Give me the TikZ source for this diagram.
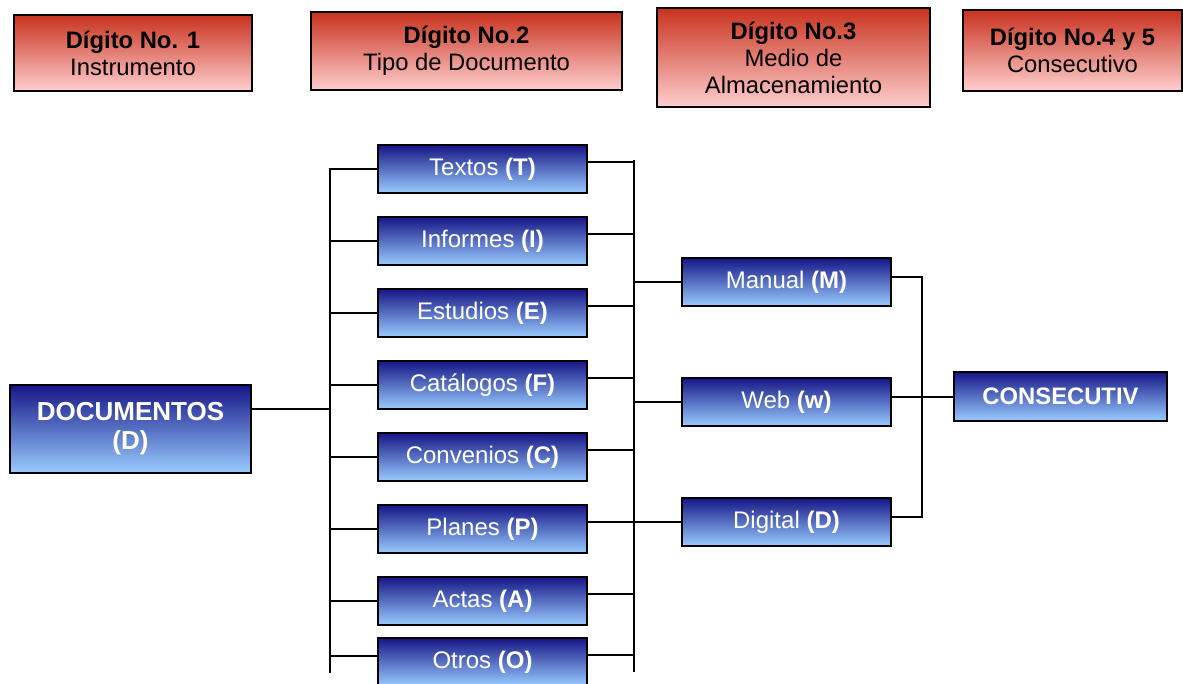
\documentclass[tikz,border=0pt]{standalone}
\usepackage{fontspec}
\setmainfont{Liberation Sans}
\usetikzlibrary{positioning}
\definecolor{digtop}{RGB}{200,50,30}
\definecolor{digbot}{RGB}{255,206,206}
\definecolor{doctop}{RGB}{22,22,135}
\definecolor{docbot}{RGB}{153,204,255}

\begin{document}
\begin{tikzpicture}
		[x=1pt,y=-1pt,line width=2pt,
		digit box/.style={draw=black,top color=digtop,bottom color=digbot,align=center,inner sep=0pt,font=\fontsize{23.8}{27}\selectfont},
		doc box/.style={draw=black,top color=doctop,bottom color=docbot,text=white,align=center,inner sep=0pt,outer sep=0pt,minimum width=209pt,minimum height=48pt,font=\fontsize{24}{27}\selectfont}]
		\useasboundingbox (0,0) rectangle (1183,683);
		
		\node[digit box,minimum width=238pt,minimum height=76pt] (d1) at (133,53) {\textbf{Dígito No. 1}\\Instrumento};
		\node[digit box,minimum width=311pt,minimum height=78pt] (d2) at (466.5,51) {\textbf{Dígito No.2}\\Tipo de Documento};
		\node[digit box,minimum width=273pt,minimum height=99pt] (d3) at (793.5,57.5) {\textbf{Dígito No.3}\\Medio de\\Almacenamiento};
		\node[digit box,minimum width=219pt,minimum height=81pt] (d4) at (1072.5,50.5) {\textbf{Dígito No.4 y 5}\\Consecutivo};
		
		\node[doc box,minimum width=241pt,minimum height=88pt,font=\fontsize{26}{29}\selectfont\bfseries] (doc) at (130.5,429) {DOCUMENTOS\\(D)};
		
		\node[doc box] (tex) at (482.5,169) {Textos \textbf{(T)}};
		\node[doc box,below=24pt of tex] (inf) {Informes \textbf{(I)}};
		\node[doc box,below=24pt of inf] (est) {Estudios \textbf{(E)}};
		\node[doc box,below=24pt of est] (cat) {Catálogos \textbf{(F)}};
		\node[doc box,below=24pt of cat] (con) {Convenios \textbf{(C)}};
		\node[doc box,below=24pt of con] (pla) {Planes \textbf{(P)}};
		\node[doc box,below=24pt of pla] (act) {Actas \textbf{(A)}};
		\node[doc box,below=13pt of act] (otr) {Otros \textbf{(O)}};
		
		\node[doc box] (man) at (786.5,282) {Manual \textbf{(M)}};
		\node[doc box] (web) at (786.5,402) {Web \textbf{(w)}};
		\node[doc box] (dig) at (786.5,522) {Digital \textbf{(D)}};
		
		\node[doc box,minimum width=213pt,minimum height=49pt,font=\fontsize{23.8}{27}\selectfont\bfseries] (cons) at (1060.5,396.5) {CONSECUTIV};
		
		\coordinate (lt) at (330,168);
		\coordinate (lb) at (330,673);
		\coordinate (rt) at (634,160);
		\coordinate (rb) at (634,672);
		\coordinate (mt) at (922,277);
		\coordinate (mb) at (922,517);
		
		\draw[] (lt) -- (lb);
		\draw[] (rt) -- (rb);
		\draw[line cap=rect] (mt) -- (mb);
		
		\draw[] (doc.east) ++(0,-20) -- ++(79,0);
		\foreach \b in {tex,inf,est,cat,con,pla,act}
			\draw[] (\b.west) -- (\b.west -| lt);
		\draw[] (otr.west) ++(0,-6) -- ++(-48,0);
		\foreach \b in {tex,inf,est,cat,con,pla,act,otr}
			\draw[] (\b.east) ++(0,-7) -- ++(47,0);
		
		\foreach \b in {man,web,dig}
			\draw[] (\b.west) -- (\b.west -| rt);
		\foreach \b in {man,web,dig}
			\draw[line cap=rect] (\b.east) ++(0,-5) -- ++(31,0);
		\draw[] (cons.west) -- (cons.west -| mt);
		\end{tikzpicture}
\end{document}
